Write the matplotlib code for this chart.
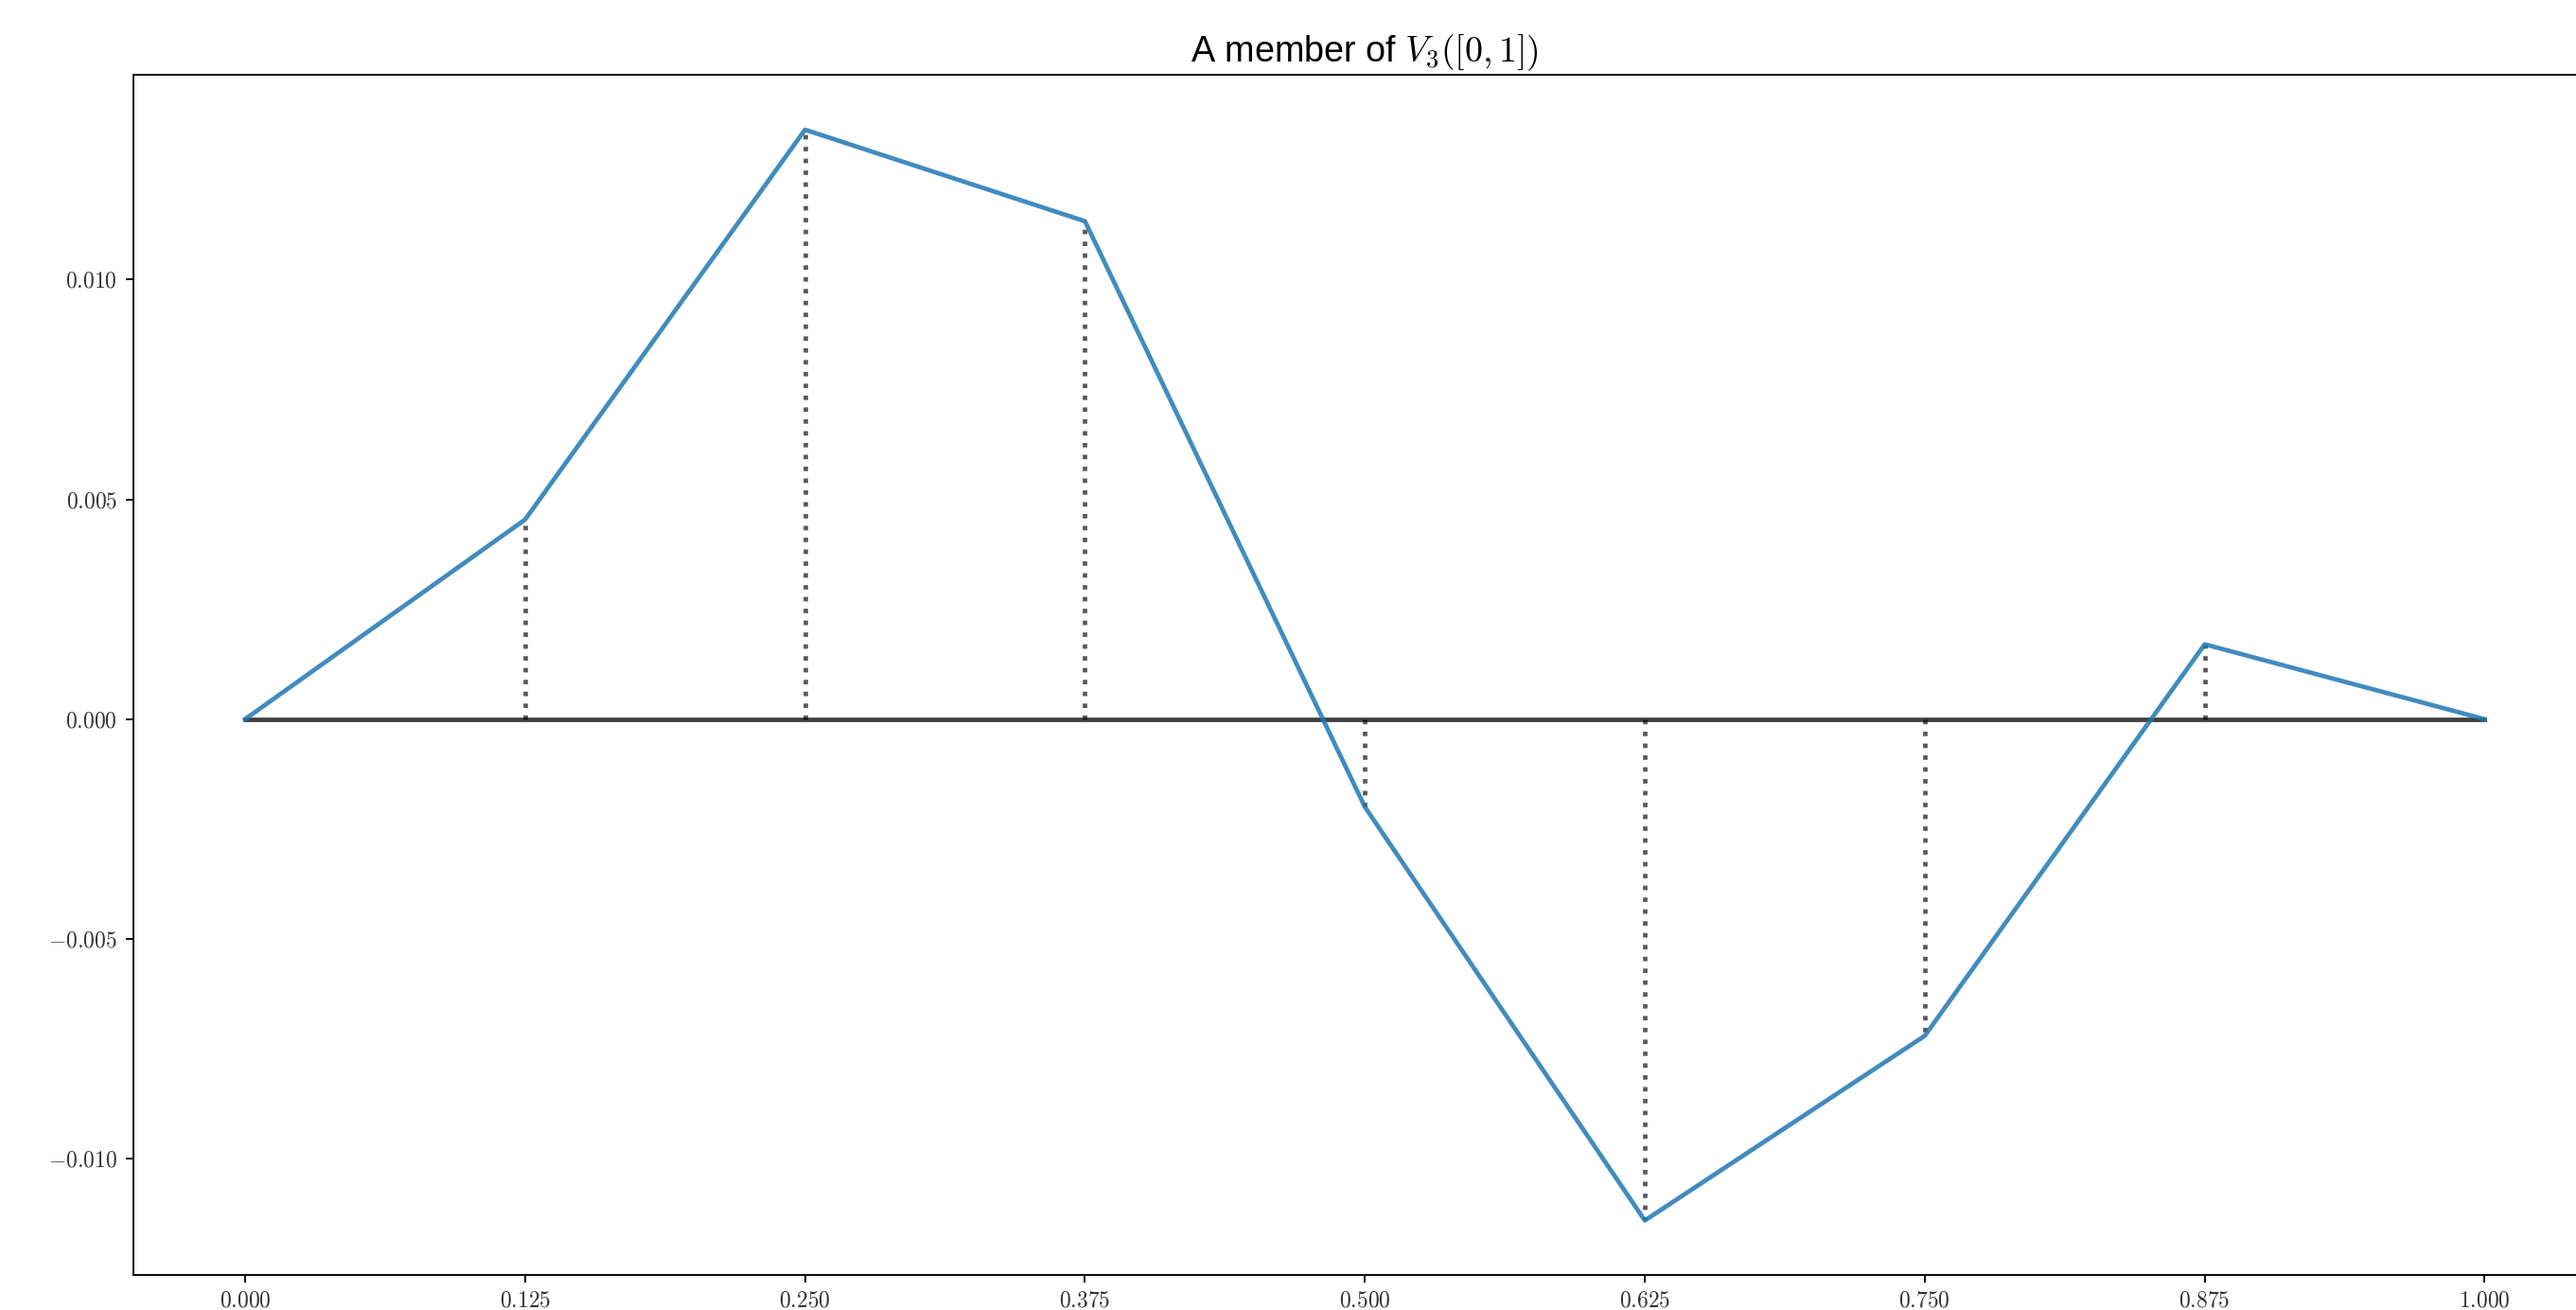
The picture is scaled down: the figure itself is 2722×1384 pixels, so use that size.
import numpy as np
import matplotlib
matplotlib.use("Agg")
import matplotlib.pyplot as plt
from matplotlib.ticker import FuncFormatter

plt.rcParams['mathtext.fontset'] = 'cm'
plt.rcParams['font.family'] = ['Liberation Sans', 'DejaVu Sans']

# nodes of the level-3 dyadic grid and the function values there
nodes = [0.0, 0.125, 0.25, 0.375, 0.5, 0.625, 0.75, 0.875, 1.0]
values = [0.0, 0.004541, 0.013412, 0.011330, -0.001998, -0.011407, -0.007205, 0.001703, 0.0]
yticks = [-0.010, -0.005, 0.0, 0.005, 0.010]

fig = plt.figure(figsize=(2722 / 170, 1384 / 170), dpi=170)
ax = fig.add_axes([0.0517, 0.0267, 0.9563, 0.9159])

# baseline, dotted coefficients and the piecewise linear function
ax.plot([nodes[0], nodes[-1]], [0, 0], color='k', alpha=0.75, lw=2.0)
ax.vlines(nodes[1:-1], 0, values[1:-1], colors='k', alpha=0.65, linestyles=':', lw=2.0)
ax.plot(nodes, values, color='#1f77b4', alpha=0.85, lw=2.0)

ax.set_xticks(nodes)
ax.set_yticks(yticks)
fmt = FuncFormatter(lambda v, pos: "${:.3f}$".format(v).replace("-0.000", "0.000"))
ax.xaxis.set_major_formatter(fmt)
ax.yaxis.set_major_formatter(fmt)
ax.tick_params(labelsize=10, labelcolor='#333333')

ax.set_title(r"A member of $V_3([0,1])$", fontsize=16)

fig.savefig("out.png", dpi=170)
